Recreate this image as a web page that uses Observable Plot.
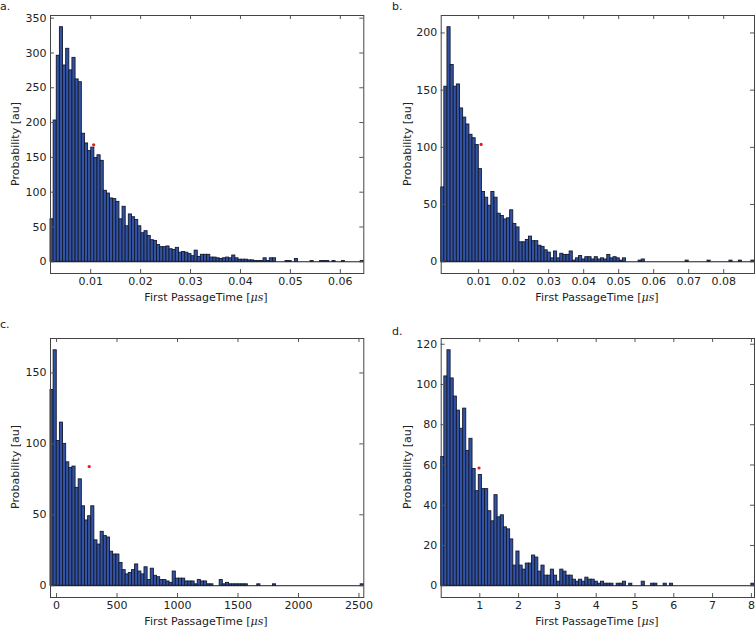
<!DOCTYPE html>
<html><head><meta charset="utf-8">
<script src="https://cdn.jsdelivr.net/npm/d3@7"></script>
<script src="https://cdn.jsdelivr.net/npm/@observablehq/plot@0.6"></script>
<style>
body{margin:0;background:#fff;}
#root{position:relative;width:755px;height:627px;overflow:hidden;font-family:"DejaVu Sans",sans-serif;color:#222;}
.panel{position:absolute;}
.lbl{position:absolute;font-size:11px;white-space:nowrap;line-height:1;}
.ylab{position:absolute;font-size:11px;white-space:nowrap;line-height:1;transform:translate(-50%,-50%) rotate(-90deg);}
.xlab{position:absolute;font-size:11px;white-space:nowrap;line-height:1;transform:translate(-50%,-50%);}
.xlab i{font-family:"DejaVu Serif",serif;}
</style></head><body><div id="root"></div>
<script>
// histogram counts (100 bins each)
const countsA = [61,203,296,337,282,306,275,293,262,258,
184,170,159,164,149,153,145,102,98,91,
90,86,61,79,51,68,64,60,51,41,
44,37,31,30,24,21,21,22,18,17,
20,13,14,13,11,8,16,7,10,10,
10,6,6,5,4,5,6,5,9,5,
3,3,3,2,2,1,1,1,5,1,
5,5,0,0,0,1,1,0,4,0,
0,0,0,1,0,0,1,1,1,0,
1,0,0,1,0,0,0,0,0,1];
const countsB = [65,153,205,172,153,155,134,126,120,111,
108,102,81,61,56,49,61,56,42,40,
37,38,45,33,30,17,17,19,22,18,
18,14,13,10,8,3,9,3,7,6,
6,9,1,3,5,2,4,4,2,4,
2,3,2,6,3,4,3,1,3,0,
0,0,0,1,2,0,0,0,0,0,
0,0,0,0,0,0,0,0,1,0,
0,0,0,0,0,1,0,0,0,0,
0,0,1,0,0,1,0,0,0,1];
const countsC = [138,166,102,115,100,87,83,84,69,75,
56,46,49,56,32,29,38,35,34,24,
22,22,16,11,8,9,11,15,10,8,
13,4,12,7,6,4,4,3,2,10,
5,5,5,3,3,3,1,4,3,3,
1,1,0,0,4,1,2,1,1,1,
1,1,1,0,0,0,1,0,0,0,
0,1,0,0,0,0,0,0,0,0,
0,0,0,0,0,0,0,0,0,0,
0,0,0,0,0,0,0,0,0,1];
const countsD = [64,104,117,103,94,87,78,88,67,73,
58,47,55,48,48,37,32,45,34,35,
29,28,23,10,17,10,8,11,11,15,
14,7,10,5,5,8,5,2,8,7,
5,5,3,2,3,2,4,3,3,2,
1,2,1,1,1,0,1,1,2,0,
1,0,0,0,2,0,0,1,1,0,
0,1,0,1,0,0,0,0,0,0,
0,0,0,0,0,0,0,0,0,0,
0,0,0,0,0,0,0,0,0,1];

// axis ranges (x extent of histogram)
const rangeA = [0.00195, 0.0647];
const rangeB = [-0.0007, 0.0888];
const rangeC = [-50, 2540];
const rangeD = [0.005, 8.08];

// tick values
const xticksA = [0.01,0.02,0.03,0.04,0.05,0.06];
const xticksB = [0.01,0.02,0.03,0.04,0.05,0.06,0.07,0.08];
const xticksC = [0,500,1000,1500,2000,2500];
const xticksD = [1,2,3,4,5,6,7,8];
const yticksA = [0,50,100,150,200,250,300,350];
const yticksB = [0,50,100,150,200];
const yticksC = [0,50,100,150];
const yticksD = [0,20,40,60,80,100,120];

// red markers [x, y]
const markA = [0.0106, 168];
const markB = [0.0107, 102.6];
const markC = [270, 84];
const markD = [0.98, 58.5];

const panelLetters = ["a.","b.","c.","d."];
const yLabel = "Probability [au]";
const xLabelText = "First PassageTime ";
const xLabelUnit = "μs";

const panels = [
  {letter:panelLetters[0], counts:countsA, range:rangeA, xt:xticksA, yt:yticksA, mark:markA, fmt:d3.format(".2f"),
   box:{left:0, top:0, w:377, h:310}, frame:{l:50, t:15, r:363.3, b:273}, letterPos:[0,1], yl:[15,144], xl:[206,297]},
  {letter:panelLetters[1], counts:countsB, range:rangeB, xt:xticksB, yt:yticksB, mark:markB, fmt:d3.format(".2f"),
   box:{left:377, top:0, w:378, h:310}, frame:{l:440.7, t:15, r:754, b:273}, letterPos:[392,1], yl:[406.5,144], xl:[597,297]},
  {letter:panelLetters[2], counts:countsC, range:rangeC, xt:xticksC, yt:yticksC, mark:markC, fmt:d3.format("d"),
   box:{left:0, top:310, w:377, h:317}, frame:{l:50, t:338, r:363.3, b:597}, letterPos:[0,319], yl:[15,467], xl:[206,621]},
  {letter:panelLetters[3], counts:countsD, range:rangeD, xt:xticksD, yt:yticksD, mark:markD, fmt:d3.format("d"),
   box:{left:377, top:310, w:378, h:317}, frame:{l:440.7, t:338, r:754, b:597}, letterPos:[392,326], yl:[406.5,467], xl:[597,621]}
];

const root = document.getElementById("root");

for (const p of panels) {
  const n = p.counts.length;
  const bw = (p.range[1]-p.range[0])/n;
  const bins = p.counts.map((v,i)=>({x1:p.range[0]+i*bw, x2:p.range[0]+(i+1)*bw, v}));
  const vmax = d3.max(p.counts);
  const ydom = [-0.05*vmax, 1.05*vmax];
  const mL = p.frame.l - p.box.left, mT = p.frame.t - p.box.top;
  const mR = p.box.left + p.box.w - p.frame.r, mB = p.box.top + p.box.h - p.frame.b;
  const innerH = p.box.h - mT - mB, innerW = p.box.w - mL - mR;
  const tk = 4;
  const chart = Plot.plot({
    width: p.box.w, height: p.box.h,
    marginLeft: mL, marginTop: mT, marginRight: mR, marginBottom: mB,
    style: {fontFamily:"DejaVu Sans, sans-serif", fontSize:"11px", color:"#222", background:"transparent", overflow:"visible"},
    x: {domain: p.range},
    y: {domain: ydom},
    marks: [
      Plot.rectY(bins, {x1:"x1", x2:"x2", y1:0, y2:"v", fill:"#3253a3", stroke:"#14192e", strokeWidth:0.9}),
      Plot.ruleY([0], {stroke:"#1a1a1a", strokeWidth:1}),
      Plot.ruleX(p.xt, {insetTop: innerH - tk, stroke:"#555"}),
      Plot.ruleX(p.xt, {insetBottom: innerH - tk, stroke:"#555"}),
      Plot.ruleY(p.yt, {insetRight: innerW - tk, stroke:"#555"}),
      Plot.ruleY(p.yt, {insetLeft: innerW - tk, stroke:"#555"}),
      Plot.dot([p.mark], {x:d=>d[0], y:d=>d[1], r:1.6, fill:"#e8191c", stroke:"none"}),
      Plot.frame({stroke:"#444", strokeWidth:1}),
      Plot.axisX(p.xt, {tickSize:0, tickPadding:4, tickFormat:p.fmt, label:null}),
      Plot.axisY(p.yt, {tickSize:0, tickPadding:4, tickFormat:d3.format("d"), label:null})
    ]
  });
  chart.classList.add("panel");
  chart.style.left = p.box.left + "px";
  chart.style.top = p.box.top + "px";
  root.appendChild(chart);

  const L = document.createElement("div");
  L.className = "lbl"; L.textContent = p.letter;
  L.style.left = p.letterPos[0] + "px"; L.style.top = p.letterPos[1] + "px";
  root.appendChild(L);

  const Y = document.createElement("div");
  Y.className = "ylab"; Y.textContent = yLabel;
  Y.style.left = p.yl[0] + "px"; Y.style.top = p.yl[1] + "px";
  root.appendChild(Y);

  const X = document.createElement("div");
  X.className = "xlab";
  X.appendChild(document.createTextNode(xLabelText + "["));
  const it = document.createElement("i"); it.textContent = xLabelUnit; X.appendChild(it);
  X.appendChild(document.createTextNode("]"));
  X.style.left = p.xl[0] + "px"; X.style.top = p.xl[1] + "px";
  root.appendChild(X);
}
</script></body></html>
